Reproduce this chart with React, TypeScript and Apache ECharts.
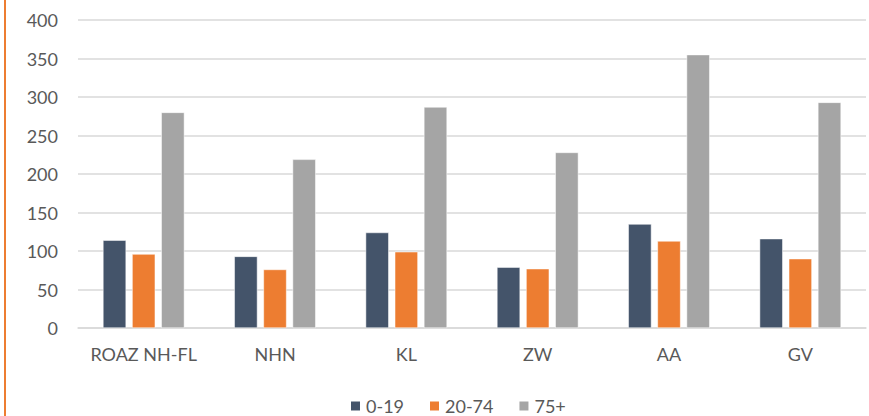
import React, { useEffect, useRef } from "react";
import * as echarts from "echarts";

const categories = ["ROAZ NH-FL", "NHN", "KL", "ZW", "AA", "GV"];
const seriesNames = ["0-19", "20-74", "75+"];
const values0to19 = [114, 93, 124, 79, 135, 116];
const values20to74 = [96, 76, 99, 77, 113, 90];
const values75plus = [280, 219, 287, 228, 355, 293];
const colors = ["#44546A", "#ED7D31", "#A5A5A5"];

export default function App() {
  const ref = useRef<HTMLDivElement>(null);
  useEffect(() => {
    if (!ref.current) return;
    const chart = echarts.init(ref.current, undefined, { renderer: "svg" });
    const font = "Lato, 'Open Sans', sans-serif";
    const data = [values0to19, values20to74, values75plus];
    chart.setOption({
      animation: false,
      backgroundColor: "#ffffff",
      color: colors,
      textStyle: { fontFamily: font },
      grid: { left: 78, right: 3, top: 20, bottom: 88, containLabel: false },
      legend: {
        top: 397,
        left: 349,
        padding: 0,
        itemWidth: 11,
        itemHeight: 11,
        itemGap: 24,
        icon: "rect",
        textStyle: { color: "#595959", fontSize: 18, fontFamily: font },
        data: seriesNames,
      },
      xAxis: {
        type: "category",
        data: categories,
        axisLine: { show: true, lineStyle: { color: "#D9D9D9", width: 1.5 } },
        axisTick: { show: false },
        axisLabel: { color: "#595959", fontSize: 18, margin: 17, fontFamily: font, interval: 0 },
      },
      yAxis: {
        type: "value",
        min: 0,
        max: 400,
        interval: 50,
        axisLine: { show: false },
        axisTick: { show: false },
        axisLabel: { color: "#595959", fontSize: 18, margin: 20, fontFamily: font },
        splitLine: { lineStyle: { color: "#D9D9D9", width: 1.5 } },
      },
      series: seriesNames.map((name, i) => ({
        name,
        type: "bar",
        data: data[i],
        barGap: "26%",
        barCategoryGap: "38%",
        itemStyle: { color: colors[i], borderColor: "#ffffff", borderWidth: 0.5 },
      })),
      graphic: [
        {
          type: "rect",
          left: 4,
          top: 0,
          shape: { width: 2, height: 416 },
          style: { fill: "#ED7D31" },
          silent: true,
        },
      ],
    });
    return () => chart.dispose();
  }, []);
  return (
    <div
      ref={ref}
      style={{ position: "fixed", left: 0, top: 0, width: 869, height: 416 }}
    />
  );
}
